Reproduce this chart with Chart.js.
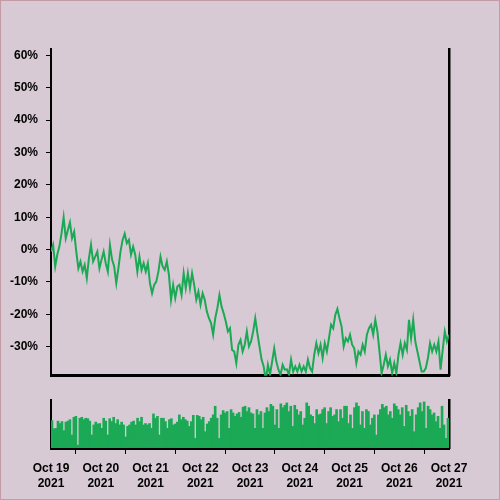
<!DOCTYPE html>
<html>
<head>
<meta charset="utf-8">
<script src="https://cdn.jsdelivr.net/npm/chart.js@4/dist/chart.umd.min.js"></script>
<style>
  html, body { margin: 0; padding: 0; background: #d8cad4; }
  #frame { position: relative; width: 500px; height: 500px; box-sizing: border-box; border: 1px solid #c69aa2; background: #d8cad4; overflow: hidden; }
  canvas { position: absolute; left: 0; }
  #top { top: 0; }
  #bot { top: 380px; }
</style>
</head>
<body>
<div id="frame">
  <canvas id="top" width="500" height="390"></canvas>
  <canvas id="bot" width="500" height="120"></canvas>
</div>
<script>
// ---- data ----
const totalHours = 192; // Oct 19 00:00 -> Oct 27 00:00
const dayLabels = ["Oct 19", "Oct 20", "Oct 21", "Oct 22", "Oct 23", "Oct 24", "Oct 25", "Oct 26", "Oct 27"];
const yearLabel = "2021";
const pctTicks = [-30, -20, -10, 0, 10, 20, 30, 40, 50, 60];

// cumulative change, percent (evenly spaced samples over the 8 days)
const changePct = [
  -0.6, 1.5, -5.2, -1.5, 1, 5, 10, 3.5, 6, 8.4, 3.5, 5.5, -0.6, -5.8, -3.7, -6.8, -4.7, -8.8, -2.7, 1.5,
  -3.7, -2.2, -0.6, -5.8, -3.1, -0.6, -4.2, -6.8, 1.4, -3.1, -5.2, -10.4, -5.8, -0.6, 3, 4.9, 2, 3, -1.6, 0.9,
  -1.6, -6.8, -2.2, -6.3, -4.2, -6.8, -4.2, -10.4, -13.5, -10.9, -9.9, -6.8, -2.2, -5.2, -6.3, -3.7, -7.8, -15.5, -10.9, -15,
  -11.4,
  -10.9, -14, -7.3, -11.9, -7.3, -11.9, -7.3, -10.9, -15.5, -13, -17, -13.5, -15.5, -19.1, -21.2, -22.7, -26.3, -21.2, -18.1,
  -14, -17.6, -19.7, -22.2, -25.3, -24.3, -31, -31.5, -35.1, -29.4, -27.9, -31.5, -29.4, -25.3, -29.9, -28.4, -25.3, -21.2, -25.8,
  -29.9, -34, -36.1, -40.5, -35.6, -38.6, -34.6, -30.5, -34.6, -37.1, -38.7, -35.6, -37.1, -37, -38.6, -34, -37.7, -36.1, -37.7,
  -35.6, -37.7, -36.1, -37.7,
  -34, -36.6, -37.7, -32.5, -28.9, -32, -29.4, -33.5, -28.9, -31.5, -27.4, -23.2, -24.3, -20.2, -18.3, -21.2, -23.8, -29.9,
  -27.4, -28.4, -26.3, -29.4, -30.5, -35.1, -31.5, -32.5, -29.4, -31.5, -26.3, -24.3, -23.2, -26.3, -21.7, -25.3, -31.5, -38.2,
  -35.6, -32.5, -36.1, -34, -38.2, -35.1, -38.2, -32.5, -28.9, -32.5, -28.9, -31, -21.7, -27.4, -21.7, -28.4, -31.5, -34.6,
  -37.7, -37.7, -36.6, -33.5, -28.9, -31.5, -29.4, -31.5, -28.4, -37.1, -31, -25.3, -28.4, -26.3
];

// volume (relative units, evenly spaced bars)
const volume = [
  57, 40, 41, 56, 51, 55, 36, 54, 56, 59, 27, 64, 66, 6, 62, 64, 59, 62, 61, 56,
  27, 48, 54, 50, 51, 41, 62, 56, 27, 61, 55, 64, 51, 59, 48, 54, 48, 23, 45, 48,
  54, 56, 48, 62, 55, 64, 48, 51, 48, 51, 41, 71, 62, 66, 27, 62, 62, 55, 41, 59,
  61, 48, 50, 54, 69, 59, 64,
  59, 56, 45, 55, 68, 20, 68, 66, 59, 64, 34, 50, 55, 62, 69, 87, 62, 20, 69, 78,
  73, 76, 41, 80, 73, 66, 71, 74, 64, 85, 87, 76, 84, 73, 71, 41, 80, 69, 76, 41,
  73, 84, 76, 91, 87, 48, 80, 41, 92, 84, 89, 94, 76, 87, 45, 89, 80, 69, 76, 48,
  62, 94, 87, 69, 66, 51, 80, 69,
  71, 80, 84, 51, 76, 84, 66, 69, 80, 55, 80, 62, 87, 87, 51, 69, 41, 84, 94, 87,
  48, 76, 41, 80, 76, 48, 62, 69, 27, 69, 80, 91, 84, 87, 69, 76, 62, 92, 87, 80,
  69, 84, 45, 89, 76, 66, 80, 34, 69, 84, 94, 76, 96, 41, 87, 80, 69, 73, 55, 66,
  41, 87, 48, 20, 62
];

// ---- build chart data ----
const lineStep = totalHours / (changePct.length - 1);
const lineData = changePct.map((v, i) => ({ x: i * lineStep, y: v }));
const barStep = totalHours / volume.length;
const barData = volume.map((v, i) => ({ x: (i + 0.5) * barStep, y: v }));
const dayTicks = dayLabels.map((_, i) => i * 24);

const green = '#1ba955';
const font = { family: '"Liberation Sans", Arial, sans-serif', size: 12, weight: 'bold' };

const topChart = new Chart(document.getElementById('top'), {
  type: 'line',
  data: { datasets: [{ data: lineData, borderColor: green, borderWidth: 2, pointRadius: 0, tension: 0, fill: false }] },
  options: {
    responsive: false, animation: false, events: [],
    layout: { padding: { top: 48, right: 52, bottom: 5, left: 0 } },
    plugins: { legend: { display: false }, tooltip: { enabled: false } },
    scales: {
      x: {
        type: 'linear', min: 0, max: totalHours,
        grid: { display: false }, ticks: { display: false },
        border: { display: true, color: '#000', width: 3 },
        afterFit: s => { s.height = 0; }
      },
      y: {
        min: -39, max: 62,
        afterBuildTicks: s => { s.ticks = pctTicks.map(v => ({ value: v })); },
        afterFit: s => { s.width = 50; },
        grid: { display: true, drawOnChartArea: false, drawTicks: true, tickLength: 5, color: '#000', lineWidth: 1 },
        border: { display: true, color: '#000', width: 2 },
        ticks: { color: '#000', font: font, padding: 8, callback: v => v + '%' }
      },
      yr: {
        position: 'right', min: -39, max: 62,
        grid: { display: false }, ticks: { display: false },
        border: { display: true, color: '#000', width: 2.5 },
        afterFit: s => { s.width = 0; }
      }
    }
  }
});

const botChart = new Chart(document.getElementById('bot'), {
  type: 'bar',
  data: { datasets: [{ data: barData, backgroundColor: green, borderWidth: 0, barPercentage: 1, categoryPercentage: 1 }] },
  options: {
    responsive: false, animation: false, events: [],
    layout: { padding: { top: 19, right: 52, bottom: 0, left: 0 } },
    plugins: { legend: { display: false }, tooltip: { enabled: false } },
    scales: {
      x: {
        type: 'linear', min: 0, max: totalHours, offset: false,
        afterBuildTicks: s => { s.ticks = dayTicks.map(v => ({ value: v })); },
        afterFit: s => { s.height = 53; },
        grid: { display: true, drawOnChartArea: false, drawTicks: true, tickLength: 6, color: '#000', lineWidth: 1 },
        border: { display: true, color: '#000', width: 3 },
        ticks: {
          color: '#000', font: Object.assign({ lineHeight: 1.25 }, font), padding: 7, maxRotation: 0, autoSkip: false,
          callback: v => [dayLabels[Math.round(v / 24)], yearLabel]
        }
      },
      y: {
        min: 0, max: 100,
        afterFit: s => { s.width = 50; },
        grid: { display: false }, ticks: { display: false },
        border: { display: true, color: '#000', width: 2 }
      },
      yr: {
        position: 'right', min: 0, max: 100,
        grid: { display: false }, ticks: { display: false },
        border: { display: true, color: '#000', width: 2.5 },
        afterFit: s => { s.width = 0; }
      }
    }
  }
});
</script>
</body>
</html>
